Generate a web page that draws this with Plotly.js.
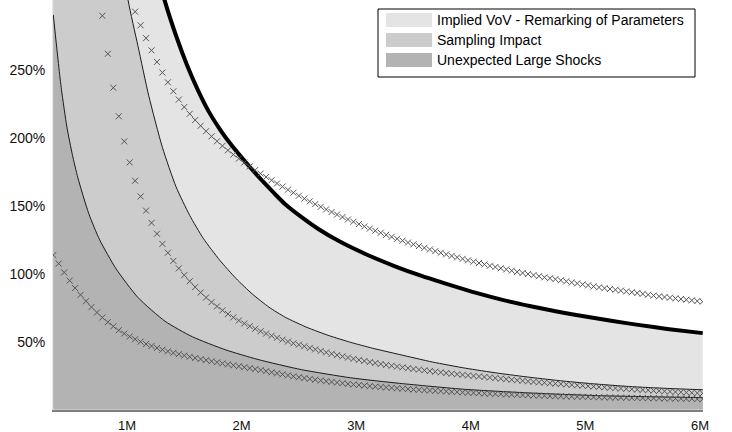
<!DOCTYPE html>
<html>
<head>
<meta charset="utf-8">
<script src="https://cdn.plot.ly/plotly-3.0.1.min.js"></script>
<style>
  html, body { margin: 0; padding: 0; background: #ffffff; }
  #chart { width: 732px; height: 432px; }
</style>
</head>
<body>
<div id="chart"></div>
<script>
// ---------- data (x in trading days, 21 days = 1 month; y in %) ----------
const tickDays = [21, 42, 63, 84, 105, 126];
const tickLabels = ['1M', '2M', '3M', '4M', '5M', '6M'];
const yTickVals = [50, 100, 150, 200, 250];
const yTickLabels = ['50%', '100%', '150%', '200%', '250%'];

const legendNames = ['Implied VoV - Remarking of Parameters', 'Sampling Impact', 'Unexpected Large Shocks'];

// thick black boundary (top of "Implied VoV" band)
const vovDays = [7.5, 10, 13, 16, 19, 22, 25, 28, 30, 32, 34, 36, 38, 40, 42, 44, 46, 48, 50, 53, 56, 60, 65, 70, 75, 80, 85, 90, 95, 100, 105, 110, 115, 120, 126.5];
const vovVals = [1160, 870, 670, 540, 455, 392, 345, 300, 275.3, 253.8, 235.3, 219.4, 206.6, 195.5, 185.7, 176.4, 167.6, 159.2, 151.2, 141.7, 133.2, 123.7, 114.0, 105.7, 98.4, 92.0, 85.9, 80.6, 76.1, 72.1, 68.5, 65.2, 62.2, 59.4, 56.3];

// thin boundary: top of "Sampling Impact" band
const samplingDays = [7.5, 10, 13, 16, 19, 21.2, 23, 25, 27.5, 30, 32.5, 35, 38, 41, 44, 47, 50, 54, 58, 62, 66, 71, 77, 83, 89, 95, 101, 107, 113, 120, 126.5];
const samplingVals = [1860, 1122, 710, 493, 365, 301.6, 268, 231, 193, 164, 143, 126, 110, 96.5, 85, 75.5, 68, 60.5, 54.5, 49.5, 45.2, 40.5, 35, 30.5, 26.8, 23.7, 21.0, 18.8, 17.0, 15.6, 14.6];

// thin boundary: top of "Unexpected Large Shocks" band
const shockDays = [7.5, 8.5, 9, 10, 11, 12, 14, 16, 19, 23, 28, 33, 39, 45, 53, 62, 71, 83, 95, 108, 126.5];
const shockVals = [290.7, 252.9, 235.6, 208, 187.7, 170.8, 144.3, 125, 103.7, 82.6, 65, 53.6, 44.1, 36.9, 29.4, 23.4, 19.3, 14.9, 12.2, 10.2, 8.8];

// daily marker series (one value per trading day, first day = 7.5)
const firstDay = 7.5;
const markerLowVals = [113.8,107.5,101.0,95.0,89.5,84.5,79.8,75.5,71.5,67.8,
  64.4,61.3,58.4,56.0,53.8,51.8,50.0,48.3,46.8,45.4,
  44.1,42.9,41.8,40.8,39.8,38.9,38.0,37.2,36.4,35.6,
  34.8,34.0,33.3,32.6,31.9,31.2,30.5,29.8,29.1,28.3,
  27.5,26.7,25.9,25.2,24.5,23.8,23.2,22.6,22.0,21.4,
  20.9,20.4,19.9,19.4,18.9,18.5,18.1,17.7,17.3,16.9,
  16.6,16.3,16.0,15.7,15.4,15.1,14.8,14.6,14.3,14.1,
  13.8,13.6,13.4,13.1,12.9,12.7,12.5,12.3,12.1,11.9,
  11.7,11.6,11.4,11.2,11.0,10.9,10.7,10.6,10.4,10.3,
  10.2,10.0,9.9,9.8,9.7,9.6,9.5,9.4,9.3,9.2,
  9.1,9.0,8.9,8.85,8.8,8.7,8.6,8.55,8.5,8.4,
  8.35,8.3,8.2,8.15,8.1,8.0,7.95,7.9,7.8,7.75];
const markerMidStart = 9;   // day index of first visible point
const markerMidVals = [290,262,237,216,197.5,182,168.5,157,146.5,137.5,
  129.5,122,115.5,109.5,104,99,94.5,90.2,86.2,82.5,
  79.1,76.0,73.1,70.4,67.9,65.6,63.4,61.4,59.5,57.7,
  56.0,54.4,52.9,51.5,50.1,48.8,47.8,46.6,45.4,44.3,
  43.2,42.1,41.1,40.1,39.2,38.3,37.4,36.6,35.8,35.0,
  34.3,33.6,32.9,32.3,31.7,31.1,30.5,29.9,29.4,28.9,
  28.4,27.9,27.4,26.9,26.4,26.0,25.6,25.2,24.8,24.4,
  24.0,23.6,23.2,22.8,22.4,22.0,21.6,21.2,20.8,20.4,
  20.1,19.8,19.4,19.1,18.8,18.5,18.2,17.9,17.6,17.3,
  17.0,16.7,16.4,16.1,15.8,15.5,15.3,15.0,14.8,14.5,
  14.3,14.0,13.8,13.5,13.3,13.0,12.8,12.6,12.4,12.2,
  12.0];
const markerHighStart = 15;
const markerHighVals = [293,283,273.5,264.5,256,248.2,241,234.4,228.3,222.8,
  217.8,213.2,209,205,201.2,197.6,194.2,190.9,187.8,184.8,
  181.9,179.1,176.4,173.8,171.3,168.9,166.5,164.2,161.9,159.7,
  157.5,155.4,153.3,151.3,149.3,147.4,145.5,143.6,141.8,140.0,
  138.3,136.6,134.9,133.3,131.7,130.2,128.7,127.2,125.8,124.4,
  123.0,121.7,120.4,119.1,117.9,116.7,115.5,114.3,113.2,112.1,
  111.0,109.9,108.9,107.9,106.9,105.9,105.0,104.1,103.2,102.3,
  101.4,100.6,99.8,99.0,98.2,97.4,96.7,96.0,95.2,94.4,
  93.6,92.9,92.2,91.5,90.7,90.0,89.4,88.8,88.2,87.6,
  87.0,86.4,85.8,85.2,84.6,84.0,83.4,82.9,82.4,81.9,
  81.4,80.9,80.4,79.9,79.5];

// ---------- styling ----------
const bandColors = ['#e4e4e4', '#cccccc', '#b3b3b3'];
const FONT = '"Liberation Sans", Arial, "DejaVu Sans", sans-serif';
const W = 732, H = 432;
const M = {l: 53, r: 29, t: 0, b: 22};
const plotW = W - M.l - M.r, plotH = H - M.t - M.b;
const px = x => (x - M.l) / plotW;          // pixel -> paper x
const py = y => (H - M.b - y) / plotH;      // pixel -> paper y

const daysFrom = (start, n) => Array.from({length: n}, (_, i) => firstDay + start + i);

const markerStyle = {symbol: 'x-thin', size: 6, line: {width: 1, color: '#555555'}, color: '#555555'};

const traces = [
  {x: vovDays, y: vovVals, type: 'scatter', mode: 'lines', fill: 'tozeroy',
   fillcolor: bandColors[0], line: {color: '#000000', width: 4, shape: 'spline', smoothing: 0.6},
   name: legendNames[0], hoverinfo: 'skip'},
  {x: samplingDays, y: samplingVals, type: 'scatter', mode: 'lines', fill: 'tozeroy',
   fillcolor: bandColors[1], line: {color: '#1a1a1a', width: 1, shape: 'spline', smoothing: 0.6},
   name: legendNames[1], hoverinfo: 'skip'},
  {x: shockDays, y: shockVals, type: 'scatter', mode: 'lines', fill: 'tozeroy',
   fillcolor: bandColors[2], line: {color: '#1a1a1a', width: 1, shape: 'spline', smoothing: 0.6},
   name: legendNames[2], hoverinfo: 'skip'},
  {x: daysFrom(0, markerLowVals.length), y: markerLowVals, type: 'scatter', mode: 'markers',
   marker: markerStyle, hoverinfo: 'skip'},
  {x: daysFrom(markerMidStart, markerMidVals.length), y: markerMidVals, type: 'scatter', mode: 'markers',
   marker: markerStyle, hoverinfo: 'skip'},
  {x: daysFrom(markerHighStart, markerHighVals.length), y: markerHighVals, type: 'scatter', mode: 'markers',
   marker: markerStyle, hoverinfo: 'skip'}
];

// legend drawn as shapes + text
const legBox = {x0: 378, x1: 695, y0: 9, y1: 77};
const swatch = {x0: 386, x1: 432, h: 14};
const rowCenters = [20, 40, 60];
const shapes = [
  {type: 'rect', xref: 'paper', yref: 'paper', x0: px(legBox.x0), x1: px(legBox.x1),
   y0: py(legBox.y1), y1: py(legBox.y0), fillcolor: '#ffffff', line: {color: '#000000', width: 1}, layer: 'above'}
];
const annotations = [];
legendNames.forEach((name, i) => {
  shapes.push({type: 'rect', xref: 'paper', yref: 'paper', x0: px(swatch.x0), x1: px(swatch.x1),
    y0: py(rowCenters[i] + swatch.h / 2), y1: py(rowCenters[i] - swatch.h / 2),
    fillcolor: bandColors[i], line: {width: 0}, layer: 'above'});
  annotations.push({xref: 'paper', yref: 'paper', x: px(435), y: py(rowCenters[i]),
    xanchor: 'left', yanchor: 'middle', text: name, showarrow: false,
    font: {family: FONT, size: 14, color: '#000000'}});
});

const layout = {
  width: W, height: H,
  margin: M,
  paper_bgcolor: '#ffffff', plot_bgcolor: '#ffffff',
  showlegend: false,
  font: {family: FONT, size: 13, color: '#111111'},
  xaxis: {range: [7.45, 126.55], tickvals: tickDays, ticktext: tickLabels,
    showgrid: false, zeroline: false, showline: true, linecolor: '#7f7f7f', linewidth: 2,
    ticks: 'outside', ticklen: 2, tickcolor: 'rgba(0,0,0,0)', tickfont: {family: FONT, size: 13, color: '#111111'}},
  yaxis: {range: [-0.3, 301.6], tickvals: yTickVals, ticktext: yTickLabels,
    showgrid: false, zeroline: false, showline: true, linecolor: '#e6e6e6', linewidth: 1,
    ticks: 'outside', ticklen: 4, tickcolor: 'rgba(0,0,0,0)', tickfont: {family: FONT, size: 14, color: '#111111'}},
  shapes: shapes,
  annotations: annotations
};

Plotly.newPlot('chart', traces, layout, {staticPlot: true, displayModeBar: false});
</script>
</body>
</html>
